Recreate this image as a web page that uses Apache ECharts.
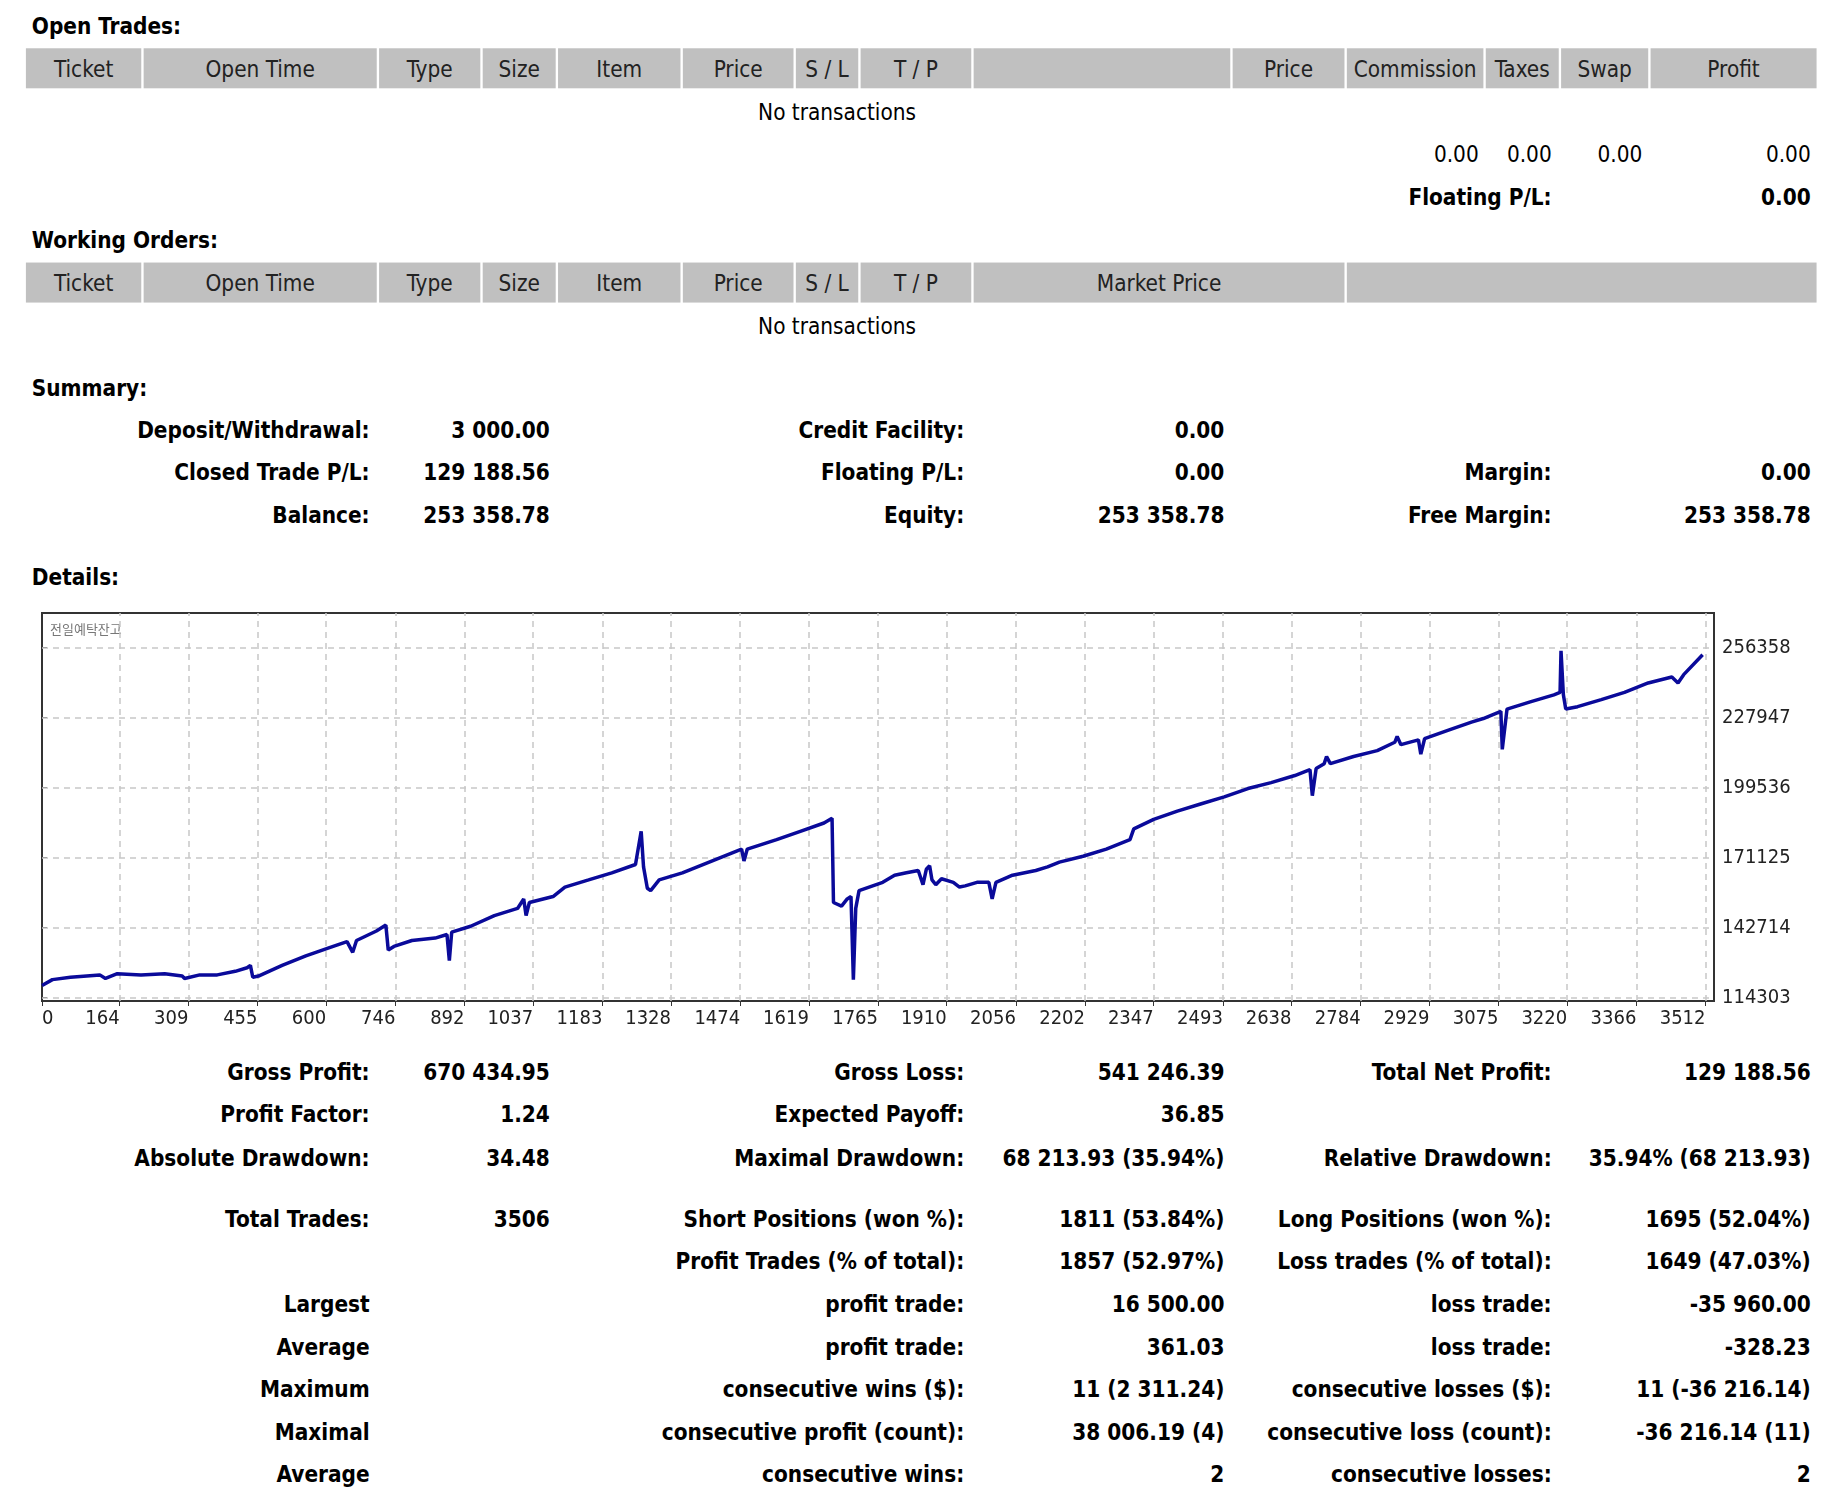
<!DOCTYPE html>
<html><head><meta charset="utf-8">
<script src="https://cdn.jsdelivr.net/npm/echarts@6/dist/echarts.min.js"></script>
<style>
body{margin:0;background:#fff;width:1846px;height:1498px;overflow:hidden;font-family:Tahoma,"DejaVu Sans Condensed","Liberation Sans",sans-serif;}
#wrap{position:absolute;left:0;top:0;width:1568px;height:1272px;transform:scale(1.1773);transform-origin:0 0;}
.t{position:absolute;font-size:19px;color:#000;white-space:nowrap;line-height:22px;}
.b{font-weight:bold;}
.cell{position:absolute;background:#c0c0c0;font-size:19px;text-align:center;line-height:34px;color:#222;}
#chart{position:absolute;left:0;top:590px;width:1846px;height:470px;}
</style></head><body>
<div id="wrap"></div>
<div id="chart"></div>
<script>
// ---- data ----
const tradeIdx = [0,22,60,122,134,159,209,259,296,301,333,370,408,433,440,445,457,507,557,607,644,656,664,706,726,731,743,781,830,855,860,865,905,955,1004,1017,1022,1029,1079,1104,1154,1203,1253,1265,1270,1278,1285,1303,1352,1402,1452,1477,1482,1489,1551,1601,1651,1668,1671,1688,1700,1708,1713,1718,1725,1775,1800,1825,1850,1860,1867,1874,1879,1887,1899,1924,1937,1949,1974,1999,2006,2014,2049,2098,2123,2148,2198,2247,2297,2305,2347,2397,2446,2496,2546,2595,2645,2677,2682,2690,2707,2712,2720,2769,2819,2856,2861,2869,2906,2911,2919,2968,3018,3043,3080,3083,3093,3142,3192,3205,3207,3212,3217,3242,3292,3341,3391,3441,3454,3466,3506];
const balance = [119118,121526,122489,123452,122007,123933,123452,123933,122970,122007,123452,123452,124896,126341,127304,122489,122970,127304,131156,134526,136934,132600,137415,141267,143675,133563,135008,137415,138378,139823,129230,140786,143193,147527,150416,154268,147527,152823,155231,159083,161972,164861,168231,181713,167268,158601,157638,161972,164861,168713,172565,174491,169676,174491,178343,181713,185084,187010,152823,151379,154268,155231,121526,150416,157638,161009,163898,164861,165824,160046,166305,167750,161972,160046,162453,161009,159083,159564,161009,161009,154268,161009,163898,165824,167268,169194,171602,174491,178343,182676,186528,189899,192788,195677,199047,201455,204344,206751,196158,207233,209159,212048,209159,212048,214455,217826,220233,216863,218789,213011,219270,222641,226011,227456,230345,214937,231308,234197,237086,238049,254901,237086,231308,232271,235160,238049,241901,244308,241901,245271,253359];
const xTicks = [0,164,309,455,600,746,892,1037,1183,1328,1474,1619,1765,1910,2056,2202,2347,2493,2638,2784,2929,3075,3220,3366,3512];
const yTicks = [114303,142714,171125,199536,227947,256358];
const seriesName = '전일예탁잔고';

// ---- text layout (coords in 1568-wide space) ----
const W = document.getElementById('wrap');
function t(x,y,s,align,bold){
  const d=document.createElement('div');d.className='t'+(bold?' b':'');d.textContent=s;
  if(align==='r'){d.style.right=(1568-x)+'px';}
  else if(align==='c'){d.style.left=(x-300)+'px';d.style.width='600px';d.style.textAlign='center';}
  else d.style.left=x+'px';
  d.style.top=(y-11)+'px';W.appendChild(d);
}
function bar(y,cols,labels){
  for(let i=0;i<cols.length-1;i++){
    const d=document.createElement('div');d.className='cell';
    d.style.left=(cols[i]+1)+'px';d.style.width=(cols[i+1]-cols[i]-2)+'px';
    d.style.top=y+'px';d.style.height='34px';d.textContent=labels[i]||'';W.appendChild(d);
  }
}
t(27,22,'Open Trades:','l',1);
bar(41,[21,121,321,409,473,579,675,730,826,1046,1143,1261,1325,1401,1544],
 ['Ticket','Open Time','Type','Size','Item','Price','S / L','T / P','','Price','Commission','Taxes','Swap','Profit']);
t(711,95,'No transactions','c');
t(1256,131,'0.00','r');t(1318,131,'0.00','r');t(1395,131,'0.00','r');t(1538,131,'0.00','r');
t(1318,167,'Floating P/L:','r',1);t(1538,167,'0.00','r',1);
t(27,204,'Working Orders:','l',1);
bar(223,[21,121,321,409,473,579,675,730,826,1143,1544],
 ['Ticket','Open Time','Type','Size','Item','Price','S / L','T / P','Market Price','']);
t(711,277,'No transactions','c');
t(27,329,'Summary:','l',1);
function row(y,c){
  const xs=[314,467,819,1040,1318,1538];
  c.forEach((s,i)=>{ if(s) t(xs[i],y,s,'r',1); });
}
row(365,['Deposit/Withdrawal:','3 000.00','Credit Facility:','0.00','','']);
row(401,['Closed Trade P/L:','129 188.56','Floating P/L:','0.00','Margin:','0.00']);
row(437,['Balance:','253 358.78','Equity:','253 358.78','Free Margin:','253 358.78']);
t(27,490,'Details:','l',1);
row(910,['Gross Profit:','670 434.95','Gross Loss:','541 246.39','Total Net Profit:','129 188.56']);
row(946,['Profit Factor:','1.24','Expected Payoff:','36.85','','']);
row(983,['Absolute Drawdown:','34.48','Maximal Drawdown:','68 213.93 (35.94%)','Relative Drawdown:','35.94% (68 213.93)']);
row(1035,['Total Trades:','3506','Short Positions (won %):','1811 (53.84%)','Long Positions (won %):','1695 (52.04%)']);
row(1071,['','','Profit Trades (% of total):','1857 (52.97%)','Loss trades (% of total):','1649 (47.03%)']);
row(1107,['Largest','','profit trade:','16 500.00','loss trade:','-35 960.00']);
row(1144,['Average','','profit trade:','361.03','loss trade:','-328.23']);
row(1180,['Maximum','','consecutive wins ($):','11 (2 311.24)','consecutive losses ($):','11 (-36 216.14)']);
row(1216,['Maximal','','consecutive profit (count):','38 006.19 (4)','consecutive loss (count):','-36 216.14 (11)']);
row(1252,['Average','','consecutive wins:','2','consecutive losses:','2']);

// ---- chart ----
const ch = echarts.init(document.getElementById('chart'));
const gl = {color:'#c8c8c8',type:[6,5],width:1.5};
const mk = xTicks.slice(1).map(v=>({xAxis:v})).concat(yTicks.map(v=>({yAxis:v})));
const lblFont = '"Liberation Sans Narrow","DejaVu Sans Condensed",sans-serif';
ch.setOption({
  animation:false,
  grid:{left:42,right:132,top:23,height:388,show:true,borderColor:'#333',borderWidth:2,backgroundColor:'#fff'},
  xAxis:{type:'value',min:0,max:3530,
    axisLine:{show:false},splitLine:{show:false},
    axisTick:{show:true,length:5,lineStyle:{color:'#333'},customValues:xTicks},
    axisLabel:{customValues:xTicks,formatter:v=>String(v),align:'right',alignMinLabel:'left',margin:8,fontSize:20,color:'#222',fontFamily:lblFont}},
  yAxis:{type:'value',position:'right',min:112858,max:270280,
    axisLine:{show:false},splitLine:{show:false},
    axisTick:{show:true,length:5,lineStyle:{color:'#333'},customValues:yTicks},
    axisLabel:{customValues:yTicks,formatter:v=>String(v),margin:8,fontSize:20,color:'#222',fontFamily:lblFont}},
  graphic:[{type:'text',left:50,top:33,style:{text:seriesName,fontSize:13,fill:'#777',fontFamily:'"Noto Sans CJK KR",sans-serif'}}],
  series:[{type:'line',name:seriesName,data:tradeIdx.map((x,i)=>[x,balance[i]]),
    showSymbol:false,lineStyle:{color:'#0a0a9a',width:3.5},itemStyle:{color:'#0a0a9a'},z:5,
    markLine:{silent:true,symbol:'none',label:{show:false},lineStyle:gl,data:mk,z:1}}]
});
</script></body></html>
